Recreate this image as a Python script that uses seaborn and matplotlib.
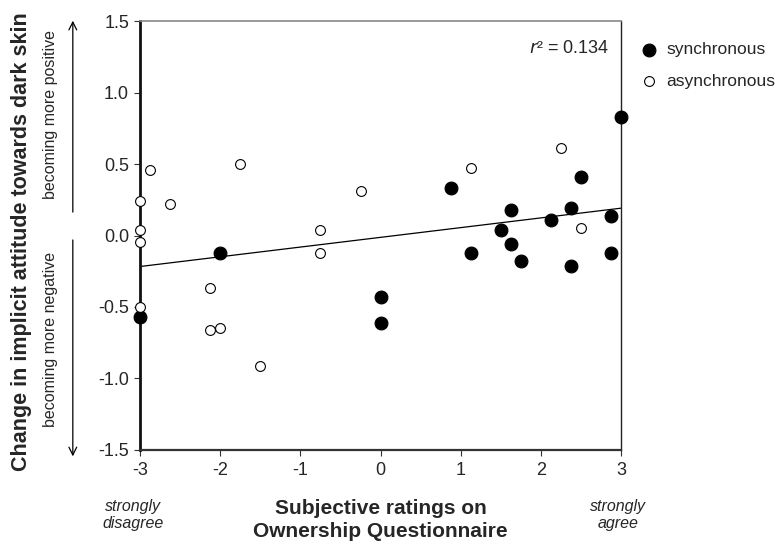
import numpy as np
import pandas as pd
import seaborn as sns
import matplotlib.pyplot as plt
from matplotlib.patches import FancyArrowPatch

# ratings (x) and change in attitude (y)
sync_x = [3.0, -3.0, -2.0, 0.0, 0.0, 0.88, 1.13, 1.5, 1.63, 1.63, 1.75, 2.13, 2.38, 2.38, 2.5, 2.88, 2.88]
sync_y = [0.83, -0.57, -0.12, -0.43, -0.61, 0.33, -0.12, 0.04, 0.18, -0.06, -0.18, 0.11, 0.19, -0.21, 0.41, 0.135, -0.12]
async_x = [-3.0, -2.88, -2.63, -1.75, -0.25, 1.13, 2.25, 2.5, -3.0, -3.0, -0.75, -0.75, -2.13, -3.0, -2.13, -2.0, -1.5]
async_y = [0.24, 0.46, 0.22, 0.5, 0.31, 0.47, 0.61, 0.05, 0.04, -0.045, 0.04, -0.12, -0.37, -0.5, -0.66, -0.65, -0.91]
r2_text = "0.134"

df = pd.DataFrame({
    "rating": sync_x + async_x,
    "change": sync_y + async_y,
    "group": ["synchronous"] * len(sync_x) + ["asynchronous"] * len(async_x),
})

sns.set_style("ticks")
plt.rcParams["font.family"] = ["Liberation Sans", "DejaVu Sans"]
plt.rcParams["axes.unicode_minus"] = False

fig = plt.figure(figsize=(7.83, 5.44), dpi=100)
ax = fig.add_axes([0.179, 0.173, 0.614, 0.788])
ax.set_xlim(-3, 3)
ax.set_ylim(-1.5, 1.5)

# regression line over all participants
sns.regplot(x="rating", y="change", data=df, scatter=False, ci=None, truncate=False,
            line_kws={"color": "black", "lw": 0.9}, ax=ax)

sns.scatterplot(x="rating", y="change", data=df[df.group == "synchronous"], color="black",
                edgecolor="black", s=85, linewidth=0.8, zorder=3, clip_on=False, ax=ax,
                label="synchronous")
sns.scatterplot(x="rating", y="change", data=df[df.group == "asynchronous"], color="white",
                edgecolor="black", s=50, linewidth=0.8, zorder=3, clip_on=False, ax=ax,
                label="asynchronous")

ax.set_xlim(-3, 3)
ax.set_ylim(-1.5, 1.5)
ax.set_xticks(range(-3, 4))
ax.set_yticks(np.arange(-1.5, 1.6, 0.5))
ax.set_yticklabels([f"{v:.1f}" for v in np.arange(-1.5, 1.6, 0.5)])
ax.tick_params(labelsize=13, length=4, width=0.8, color="#333333")
ax.tick_params(axis="x", pad=5)
ax.tick_params(axis="y", pad=4)
ax.set_xlabel("")
ax.set_ylabel("")

ax.spines["left"].set_linewidth(2.0)
ax.spines["left"].set_color("#111111")
ax.spines["bottom"].set_linewidth(1.6)
ax.spines["bottom"].set_color("#333333")
ax.spines["top"].set_linewidth(1.2)
ax.spines["top"].set_color("#888888")
ax.spines["right"].set_linewidth(1.0)
ax.spines["right"].set_color("#222222")

ax.text(0.977, 0.937, r"$r$² = " + r2_text, transform=ax.transAxes, ha="right", va="center",
        fontsize=13)

leg = ax.legend(loc="upper left", bbox_to_anchor=(1.0, 0.992), frameon=False, fontsize=12.5,
                handletextpad=0.4, labelspacing=0.95, borderaxespad=0.6, handlelength=1.2)

# axis labels
fig.text(0.028, 0.555, "Change in implicit attitude towards dark skin", rotation=90,
         ha="center", va="center", fontsize=15.5, fontweight="bold")
fig.text(0.064, 0.789, "becoming more positive", rotation=90, ha="center", va="center", fontsize=11.5)
fig.text(0.064, 0.376, "becoming more negative", rotation=90, ha="center", va="center", fontsize=11.5)
fig.patches.append(FancyArrowPatch(
    (0.093, 0.605), (0.093, 0.967), transform=fig.transFigure, arrowstyle="->",
    mutation_scale=14, lw=0.9, color="black"))
fig.patches.append(FancyArrowPatch(
    (0.093, 0.564), (0.093, 0.156), transform=fig.transFigure, arrowstyle="->",
    mutation_scale=14, lw=0.9, color="black"))

fig.text(0.486, 0.055, "Subjective ratings on", ha="center", va="baseline",
         fontsize=15, fontweight="bold")
fig.text(0.486, 0.013, "Ownership Questionnaire", ha="center", va="baseline",
         fontsize=15, fontweight="bold")
fig.text(0.170, 0.053, "strongly\ndisagree", ha="center", va="center", fontsize=11.5,
         style="italic", linespacing=1.15)
fig.text(0.789, 0.053, "strongly\nagree", ha="center", va="center", fontsize=11.5,
         style="italic", linespacing=1.15)

fig.savefig("out.png", dpi=100)
